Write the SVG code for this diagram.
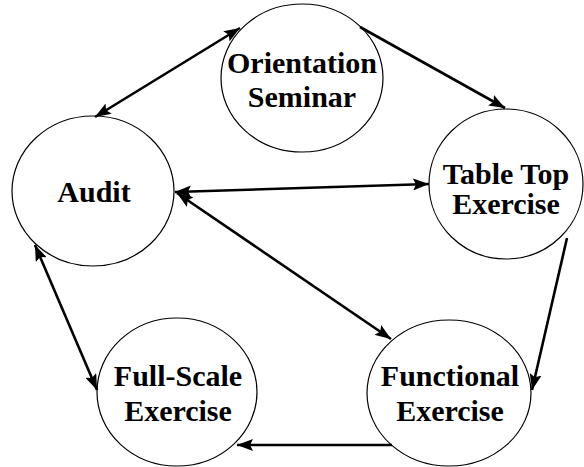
<svg xmlns="http://www.w3.org/2000/svg" width="584" height="467" viewBox="0 0 584 467">
  <style>
    .node ellipse { fill: #ffffff; stroke: #000000; stroke-width: 1.2; }
    .node text { font-family: "Liberation Serif", "Times New Roman", serif; font-weight: bold; font-size: 30px; fill: #000000; text-anchor: middle; }
    .edge { stroke: #000000; stroke-width: 2.6; fill: none; }
  </style>
  <defs>
    <marker id="arrow" viewBox="0 0 16 12" refX="16" refY="6" markerWidth="16" markerHeight="12" markerUnits="userSpaceOnUse" orient="auto-start-reverse">
      <path d="M0,0 L16,6 L0,12 L3,6 z" fill="#000000"/>
    </marker>
  </defs>
  <rect width="584" height="467" fill="#ffffff"/>

  <g id="orientation-seminar" class="node">
    <ellipse cx="302" cy="78" rx="81" ry="74"/>
    <text x="302" y="73">Orientation</text>
    <text x="302" y="107">Seminar</text>
  </g>
  <g id="audit" class="node">
    <ellipse cx="93" cy="191" rx="81" ry="75"/>
    <text x="94" y="202">Audit</text>
  </g>
  <g id="table-top-exercise" class="node">
    <ellipse cx="506" cy="184" rx="77" ry="75"/>
    <text x="506" y="184">Table Top</text>
    <text x="506" y="214">Exercise</text>
  </g>
  <g id="functional-exercise" class="node">
    <ellipse cx="449" cy="393" rx="82" ry="73"/>
    <text x="450" y="386">Functional</text>
    <text x="450" y="421">Exercise</text>
  </g>
  <g id="full-scale-exercise" class="node">
    <ellipse cx="177" cy="392" rx="80" ry="74"/>
    <text x="178" y="386">Full-Scale</text>
    <text x="178" y="421">Exercise</text>
  </g>

  <g id="connectors">
    <line class="edge" x1="95" y1="117" x2="240" y2="28" marker-start="url(#arrow)" marker-end="url(#arrow)"/>
    <line class="edge" x1="360" y1="27" x2="505" y2="108" marker-end="url(#arrow)"/>
    <line class="edge" x1="175" y1="192" x2="429" y2="184" marker-start="url(#arrow)" marker-end="url(#arrow)"/>
    <line class="edge" x1="177" y1="193" x2="391" y2="339" marker-start="url(#arrow)" marker-end="url(#arrow)"/>
    <line class="edge" x1="567" y1="238" x2="532" y2="390" marker-end="url(#arrow)"/>
    <line class="edge" x1="392" y1="445" x2="237" y2="445" marker-end="url(#arrow)"/>
    <line class="edge" x1="35" y1="245" x2="97" y2="390" marker-start="url(#arrow)" marker-end="url(#arrow)"/>
  </g>
</svg>
